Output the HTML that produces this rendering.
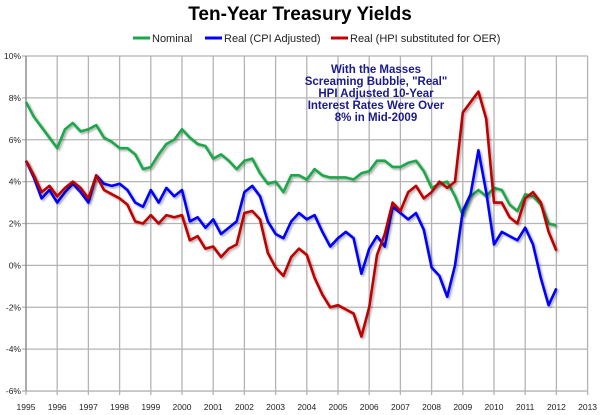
<!DOCTYPE html>
<html><head><meta charset="utf-8"><style>
body{margin:0;background:#fff;}
svg{display:block;font-family:"Liberation Sans",sans-serif;}
</style></head><body>
<svg id="c" width="600" height="415">
<defs><filter id="sh" x="-5%" y="-5%" width="110%" height="110%"><feDropShadow dx="1.5" dy="1.5" stdDeviation="1" flood-color="#000" flood-opacity="0.35"/></filter></defs>
<text x="300" y="20" text-anchor="middle" font-size="19" font-weight="bold" fill="#000">Ten-Year Treasury Yields</text>
<g id="grid"></g><g id="series"></g>
<g font-size="11" fill="#222">
<line x1="133" y1="38" x2="150" y2="38" stroke="#1ca74a" stroke-width="3"/><text x="152" y="42">Nominal</text>
<line x1="205" y1="38" x2="222" y2="38" stroke="#0000ff" stroke-width="3"/><text x="224" y="42">Real (CPI Adjusted)</text>
<line x1="331" y1="38" x2="348" y2="38" stroke="#c00000" stroke-width="3"/><text x="350" y="42">Real (HPI substituted for OER)</text>
</g>
<g font-size="11.5" font-weight="bold" fill="#1a1a8c" text-anchor="middle">
<text x="376" y="73">With the Masses</text><text x="376" y="85">Screaming Bubble, "Real"</text><text x="376" y="97">HPI Adjusted 10-Year</text><text x="376" y="109">Interest Rates Were Over</text><text x="376" y="121">8% in Mid-2009</text>
</g>
</svg>
<script>
const xTicks=[1995,1996,1997,1998,1999,2000,2001,2002,2003,2004,2005,2006,2007,2008,2009,2010,2011,2012,2013];
const yTicks=[10,8,6,4,2,0,-2,-4,-6];
const dates=[];for(let i=0;i<=68;i++)dates.push(1995+i*0.25);
const nominal=[7.8,7.1,6.6,6.1,5.6,6.5,6.8,6.4,6.5,6.7,6.1,5.9,5.6,5.6,5.3,4.6,4.7,5.3,5.8,6.0,6.5,6.1,5.8,5.7,5.1,5.3,5.0,4.6,5.0,5.1,4.4,3.9,4.0,3.5,4.3,4.3,4.1,4.6,4.3,4.2,4.2,4.2,4.1,4.4,4.5,5.0,5.0,4.7,4.7,4.9,5.0,4.5,3.7,3.9,4.0,3.3,2.4,3.3,3.6,3.3,3.7,3.6,2.9,2.6,3.4,3.3,2.9,2.0,1.9];
const realCpi=[5.0,4.2,3.2,3.6,3.0,3.5,3.9,3.5,3.0,4.3,3.9,3.8,3.9,3.6,3.0,2.8,3.6,3.0,3.7,3.3,3.6,2.1,2.3,1.8,2.2,1.5,1.8,2.1,3.5,3.8,3.3,2.1,1.5,1.3,2.1,2.5,2.2,2.4,1.6,0.9,1.3,1.6,1.3,-0.4,0.8,1.4,0.9,2.8,2.5,2.2,2.5,1.7,-0.1,-0.5,-1.5,0.0,2.6,3.4,5.5,3.5,1.0,1.6,1.4,1.2,1.8,1.0,-0.6,-1.9,-1.1];
const realHpi=[5.0,4.3,3.5,3.8,3.3,3.7,4.0,3.7,3.2,4.3,3.6,3.4,3.2,2.9,2.1,2.0,2.4,2.0,2.4,2.3,2.4,1.2,1.4,0.8,0.9,0.4,0.8,1.0,2.5,2.6,2.2,0.6,-0.1,-0.5,0.4,0.8,0.5,-0.6,-1.4,-2.0,-1.9,-2.1,-2.3,-3.4,-2.0,0.5,1.5,3.0,2.6,3.5,3.8,3.2,3.5,4.0,3.7,4.0,7.3,7.8,8.3,7.0,3.0,3.0,2.3,2.0,3.2,3.5,3.0,1.6,0.7];
const X=d=>26+(d-1995)*31.2, Y=v=>56+(10-v)*20.94;
const NS='http://www.w3.org/2000/svg';
const g=document.getElementById('grid'), s=document.getElementById('series');
function mk(tag,attrs,parent){const e=document.createElementNS(NS,tag);for(const k in attrs)e.setAttribute(k,attrs[k]);parent.appendChild(e);return e;}
xTicks.forEach(t=>{
 const l=mk('line',{x1:X(t),x2:X(t),y1:Y(10),y2:Y(-6)+4,stroke:'#b4b4b4','stroke-width':1.3},g);
 
 
 const tx=mk('text',{x:X(t),y:410,'text-anchor':'middle','font-size':8.5,fill:'#222'},g);tx.textContent=t;
 
 
});
yTicks.forEach(t=>{
 const l=mk('line',{x1:X(1995)-4,x2:X(2013),y1:Y(t),y2:Y(t),stroke:'#b4b4b4','stroke-width':1.3},g);
 
 
 const tx=mk('text',{x:21,y:Y(t)+3,'text-anchor':'end','font-size':8.5,fill:'#222'},g);tx.textContent=t+'%';
 
 
});
mk('line',{x1:X(1995),x2:X(1995),y1:Y(10),y2:Y(-6),stroke:'#888','stroke-width':1.3},g);
function line(vals,color,name){
 const p=mk('polyline',{points:vals.map((v,i)=>X(dates[i])+','+Y(v)).join(' '),fill:'none',stroke:color,'stroke-width':2.6,'stroke-linejoin':'round',filter:'url(#sh)'},s);
 
 
}
line(nominal,'#1ca74a','nominal-line');
line(realCpi,'#0000ff','real-cpi-line');
line(realHpi,'#c00000','real-hpi-line');
</script>
</body></html>
